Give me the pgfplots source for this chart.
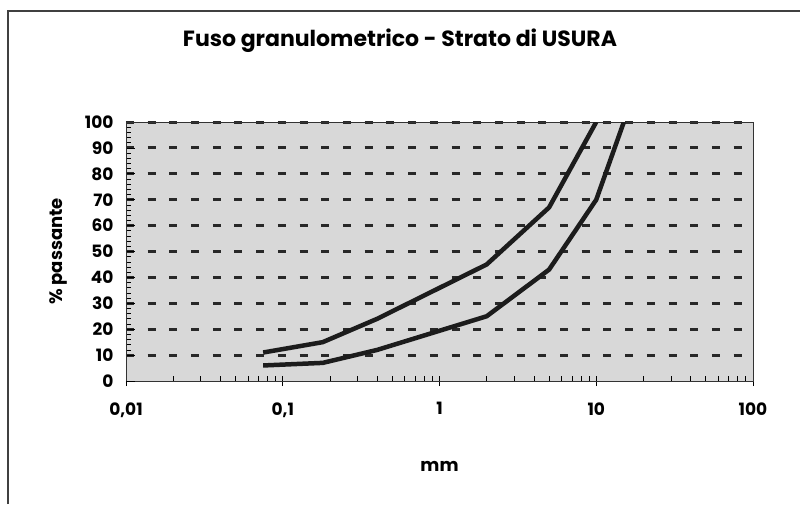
\documentclass[border=0pt]{standalone}
\usepackage{fontspec}
\setmainfont{Poppins}
\usepackage{pgfplots}
\usepackage{pgfplotstable}
\pgfplotsset{compat=1.18}
\definecolor{fondo}{RGB}{216,216,216}
\definecolor{griglia}{RGB}{40,40,40}
\definecolor{curva}{RGB}{28,28,28}

% limite superiore del fuso
\pgfplotstableread{
mm pass
0.075 11
0.18 15
0.4 24
2 45
5 67
10 100
}\limitesup
% limite inferiore del fuso
\pgfplotstableread{
mm pass
0.075 6
0.18 7
0.4 12
2 25
5 43
10 70
15 100
}\limiteinf

\begin{document}
\begin{tikzpicture}
\useasboundingbox (0pt,0pt) rectangle (800pt,504pt);
\draw[line width=1.5pt, black!75] (8pt,0pt) -- (8pt,493pt) -- (800pt,493pt);
\begin{axis}[
    at={(126pt,123pt)}, anchor=south west,
    scale only axis, width=627pt, height=259pt,
    xmode=log, xmin=0.01, xmax=100, ymin=0, ymax=100,
    xtick={0.01,0.1,1,10,100},
    xticklabels={{0,01},{0,1},1,10,100},
    ytick={10,20,...,100},
    extra y ticks={0},
    extra y tick style={grid=none},
    minor y tick num=4,
    ymajorgrids,
    major grid style={griglia, line width=3pt, dash pattern=on 8pt off 13.7pt},
    axis background/.style={fill=fondo},
    axis line style={black!80, line width=0.8pt},
    tick align=inside, xtick pos=bottom, ytick pos=left,
    tick style={black, line width=0.7pt},
    major tick length=9pt, minor tick length=5pt,
    major x tick style={yshift=-5pt},
    /pgf/number format/assume math mode=true,
    ticklabel style={font=\bfseries\fontsize{17}{17}\selectfont},
    xticklabel style={yshift=-18pt},
    yticklabel style={xshift=-9pt},
    title={Fuso granulometrico - Strato di USURA},
    title style={font=\bfseries\fontsize{22}{22}\selectfont, at={(axis description cs:0.437,1.292)}, anchor=center},
    xlabel={mm},
    xlabel style={font=\bfseries\fontsize{18}{18}\selectfont, at={(axis description cs:0.5,-0.331)}, anchor=center},
    ylabel={\% passante},
    ylabel style={font=\bfseries\fontsize{18}{18}\selectfont, at={(axis description cs:-0.108,0.5)}, anchor=center},
]
\addplot[curva, line width=4.5pt, line join=round] table[x=mm, y=pass] {\limitesup};
\addplot[curva, line width=4.5pt, line join=round] table[x=mm, y=pass] {\limiteinf};
\end{axis}
\end{tikzpicture}
\end{document}
